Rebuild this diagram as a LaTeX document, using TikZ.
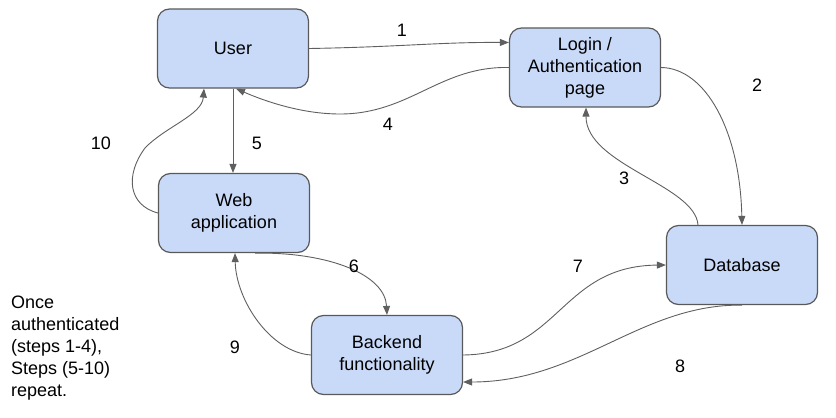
\documentclass[tikz,border=0pt]{standalone}
\usepackage{fontspec}
\setmainfont{Liberation Sans}
\usetikzlibrary{arrows.meta}
\definecolor{boxfill}{HTML}{C9DAF8}
\definecolor{boxline}{HTML}{595959}
\definecolor{lnkline}{HTML}{5F5F5F}
\tikzset{blk/.style={draw=boxline,fill=boxfill,line width=1.2pt,rounded corners=12pt,minimum width=\boxw pt,minimum height=\boxh pt,inner sep=0pt,align=center,font=\fontsize{18}{22}\selectfont}}
\tikzset{lnk/.style={draw=lnkline,line width=0.9pt,-{Triangle[length=9pt,width=7pt]}}}
\tikzset{num/.style={inner sep=0pt,font=\fontsize{18}{22}\selectfont}}

\begin{document}
\begin{tikzpicture}[x=1pt,y=-1pt]
      \pgfmathsetmacro{\boxw}{151}
      \pgfmathsetmacro{\boxh}{79}
      \useasboundingbox (0,0) rectangle (836,418);

      \node[blk] at (233,48.5) (user) {User};
      \node[blk] at (585,67.5) (login) {Login /\\Authentication\\page};
      \node[blk] at (234,213) (webapp) {Web\\application};
      \node[blk] at (387,355) (backend) {Backend\\functionality};
      \node[blk] at (742,265) (database) {Database};

      \draw[lnk] (user.east) .. controls (400,47) and (440,42) .. ([yshift=25pt]login.west);
      \draw[lnk] (login.east) .. controls (705,68) and (740,130) .. (database.north);
      \draw[lnk] ([xshift=-44pt]database.north) .. controls (695,185) and (586,165) .. ([xshift=1pt]login.south);
      \draw[lnk] (login.west) .. controls (440,66) and (410,114) .. (340,114) .. controls (300,114) and (262,100) .. ([xshift=3pt]user.south);
      \draw[lnk] (user.south) -- (user.south |- webapp.north);
      \draw[lnk] ([xshift=21pt]webapp.south) .. controls (330,252) and (385,275) .. (backend.north);
      \draw[lnk] (backend.east) .. controls (560,354) and (560,266) .. (database.west);
      \draw[lnk] (database.south) .. controls (640,304) and (580,382) .. ([yshift=-27pt]backend.east);
      \draw[lnk] (backend.west) .. controls (270,352) and (236,300) .. ([xshift=1pt]webapp.south);
      \draw[lnk] (webapp.west) .. controls (128,205) and (125,175) .. (145,148) .. controls (165,127) and (202,115) .. ([xshift=-29pt]user.south);

      \node[num] at (402,30) (n1) {1};
      \node[num] at (757,85) (n2) {2};
      \node[num] at (624,178) (n3) {3};
      \node[num] at (388,124) (n4) {4};
      \node[num] at (257,143) (n5) {5};
      \node[num] at (354,266) (n6) {6};
      \node[num] at (578,266) (n7) {7};
      \node[num] at (680,366) (n8) {8};
      \node[num] at (235,347) (n9) {9};
      \node[num] at (101,143) (n10) {10};

      \node[num,anchor=north west,align=left] at (11,296) (note) {Once\\authenticated\\(steps 1-4),\\Steps (5-10)\\repeat.};

    \end{tikzpicture}
\end{document}
